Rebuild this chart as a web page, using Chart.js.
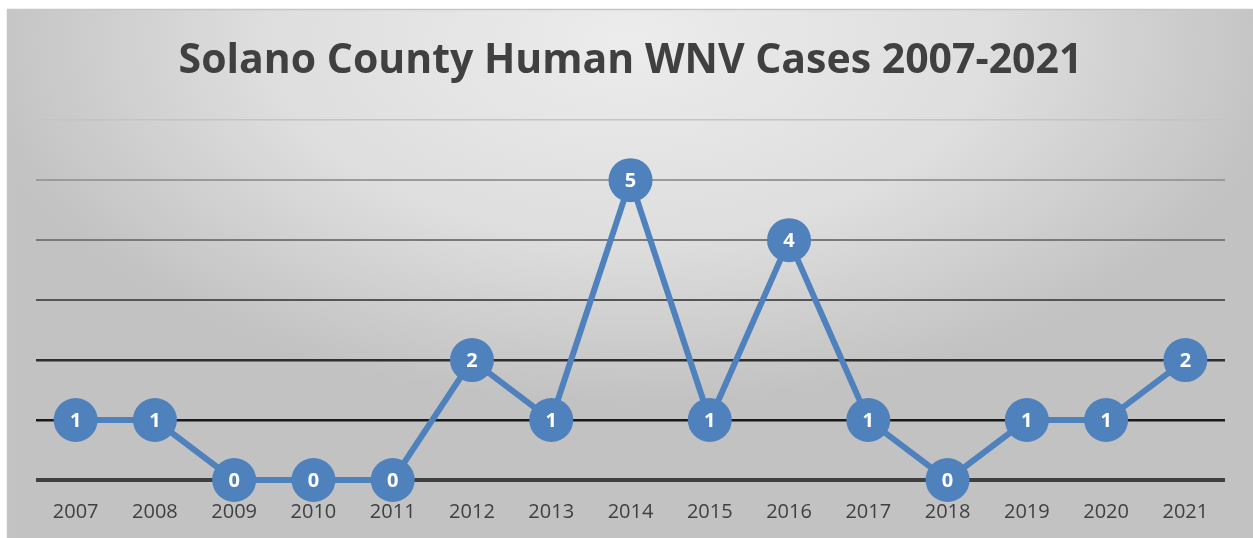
<!DOCTYPE html>
<html>
<head>
<meta charset="utf-8">
<script src="https://cdn.jsdelivr.net/npm/chart.js@4.4.0/dist/chart.umd.min.js"></script>
<style>
  html, body { margin: 0; padding: 0; background: #fff; }
  #wrap { width: 1253px; height: 538px; }
</style>
</head>
<body>
<div id="wrap"><canvas id="myChart" width="1253" height="538"></canvas></div>
<script>
var years = ['2007','2008','2009','2010','2011','2012','2013','2014','2015','2016','2017','2018','2019','2020','2021'];
var cases = [1, 1, 0, 0, 0, 2, 1, 5, 1, 4, 1, 0, 1, 1, 2];
var yTicks = [0, 1, 2, 3, 4, 5, 6];
var gridColors = ['#404040', '#1a1a1a', '#2e2e2e', '#555555', '#7a7a7a', '#9a9a9a', '#c4c4c4'];
var gridWidths = [4, 2.5, 2.5, 2, 2, 2, 1.5];

// background box with soft gray gradient
var bgPlugin = {
	id: 'bgBox',
	beforeDraw: function(chart) {
		var ctx = chart.ctx;
		var w = chart.width, h = chart.height;
		ctx.save();
		ctx.fillStyle = '#ffffff';
		ctx.fillRect(0, 0, w, h);
		var x0 = 7, y0 = 9;
		ctx.save();
		ctx.beginPath();
		ctx.rect(x0, y0, w - x0, h - y0);
		ctx.clip();
		ctx.translate(630, 40);
		ctx.scale(1, 0.55);
		var g = ctx.createRadialGradient(0, 0, 0, 0, 0, 660);
		g.addColorStop(0, '#ececec');
		g.addColorStop(0.55, '#dedede');
		g.addColorStop(1, '#c2c2c2');
		ctx.fillStyle = g;
		ctx.fillRect(-700, -100, 1400, 1200);
		ctx.restore();
		ctx.strokeStyle = '#c6c6c6';
		ctx.lineWidth = 1.5;
		ctx.strokeRect(x0 + 0.5, y0 + 0.5, w - x0 + 5, h - y0 + 5);
		ctx.restore();
	}
};

// value labels inside the markers
var valueLabels = {
	id: 'valueLabels',
	afterDatasetsDraw: function(chart) {
		var ctx = chart.ctx;
		var meta = chart.getDatasetMeta(0);
		ctx.save();
		ctx.fillStyle = '#ffffff';
		ctx.font = 'bold 20px "Open Sans"';
		ctx.textAlign = 'center';
		ctx.textBaseline = 'middle';
		meta.data.forEach(function(pt, i) {
			ctx.fillText(String(cases[i]), pt.x, pt.y + 1);
		});
		ctx.restore();
	}
};

var _config = {
	type: 'line',
	data: {
		labels: years,
		datasets: [{
			data: cases,
			borderColor: '#4f81bd',
			backgroundColor: '#4f81bd',
			borderWidth: 6,
			pointRadius: 22,
			pointHoverRadius: 22,
			pointBorderWidth: 0,
			tension: 0,
			fill: false,
			clip: false
		}]
	},
	options: {
		responsive: false,
		animation: false,
		layout: {
			autoPadding: false,
			padding: { left: 36, right: 28, top: 0, bottom: 14 }
		},
		plugins: {
			legend: { display: false },
			tooltip: { enabled: false },
			title: {
				display: true,
				text: 'Solano County Human WNV Cases 2007-2021',
				color: '#404040',
				font: { family: '"Open Sans"', size: 41, weight: 'bold', lineHeight: 1.2 },
				padding: { top: 37, bottom: 34 }
			}
		},
		scales: {
			x: {
				offset: true,
				afterFit: function(scale) { scale.height = 44; },
				grid: { display: false, drawTicks: false },
				border: { display: false },
				ticks: {
					color: '#404040',
					font: { family: '"Open Sans"', size: 20 },
					padding: 20
				}
			},
			y: {
				min: 0,
				max: 6,
				afterFit: function(scale) { scale.width = 0; },
				border: { display: false },
				grid: {
					drawTicks: false,
					color: function(c) { return gridColors[c.index] || '#999'; },
					lineWidth: function(c) { return gridWidths[c.index] || 1; }
				},
				ticks: {
					display: false,
					stepSize: 1
				}
			}
		}
	},
	plugins: [bgPlugin, valueLabels]
};

var myChart = new Chart(document.getElementById('myChart'), _config);
</script>
</body>
</html>
